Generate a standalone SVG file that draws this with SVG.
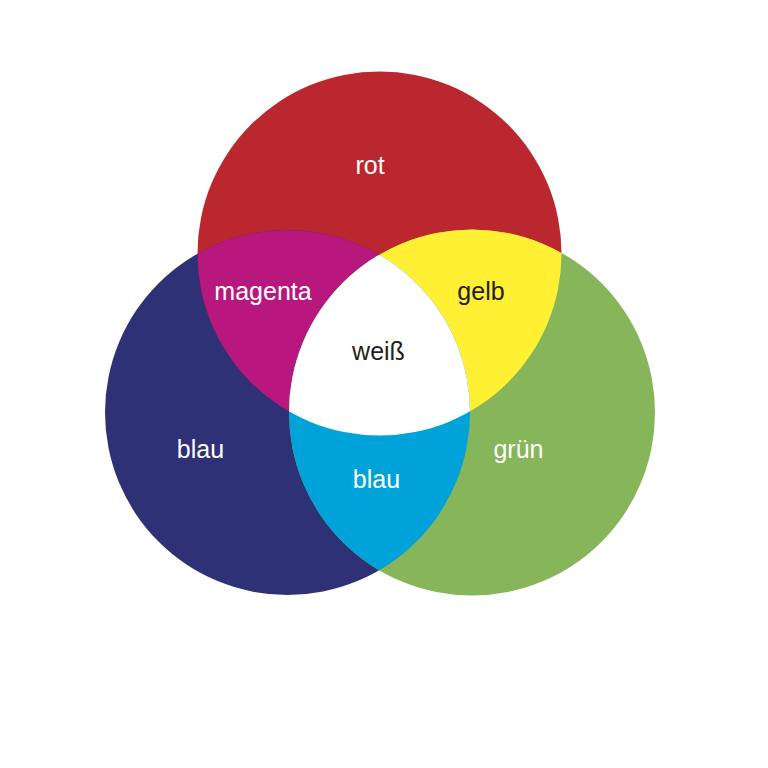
<svg xmlns="http://www.w3.org/2000/svg" width="768" height="768" viewBox="0 0 768 768">
  <style>
    .lbl { font-family: "Liberation Sans", Arial, sans-serif; font-size: 25px; text-anchor: middle; }
    .lt { fill: #ffffff; }
    .dk { fill: #231f20; }
  </style>
  <defs>
    <circle id="cR" cx="379.5" cy="253.5" r="182"/>
    <circle id="cB" cx="287.5" cy="412.5" r="182.5"/>
    <circle id="cG" cx="472" cy="412.5" r="183"/>
    <clipPath id="clipR"><use href="#cR"/></clipPath>
    <clipPath id="clipB"><use href="#cB"/></clipPath>
  </defs>
  <rect width="768" height="768" fill="#ffffff"/>
  <g id="rot">
    <use href="#cR" fill="#ba272e"/>
    <text class="lbl lt" x="370" y="174">rot</text>
  </g>
  <g id="blau">
    <use href="#cB" fill="#2f3177"/>
    <text class="lbl lt" x="200.5" y="458">blau</text>
  </g>
  <g id="gruen">
    <use href="#cG" fill="#86b55a"/>
    <text class="lbl lt" x="518.5" y="458">grün</text>
  </g>
  <g id="magenta">
    <use href="#cB" fill="#b8187e" clip-path="url(#clipR)"/>
    <text class="lbl lt" x="263" y="299.5">magenta</text>
  </g>
  <g id="gelb">
    <use href="#cG" fill="#fff034" clip-path="url(#clipR)"/>
    <text class="lbl dk" x="481" y="300">gelb</text>
  </g>
  <g id="cyan">
    <use href="#cG" fill="#00a3d9" clip-path="url(#clipB)"/>
    <text class="lbl lt" x="376.5" y="488">blau</text>
  </g>
  <g id="weiss">
    <g clip-path="url(#clipR)">
      <use href="#cG" fill="#ffffff" clip-path="url(#clipB)"/>
    </g>
    <text class="lbl dk" x="378.5" y="359.5">weiß</text>
  </g>
</svg>
